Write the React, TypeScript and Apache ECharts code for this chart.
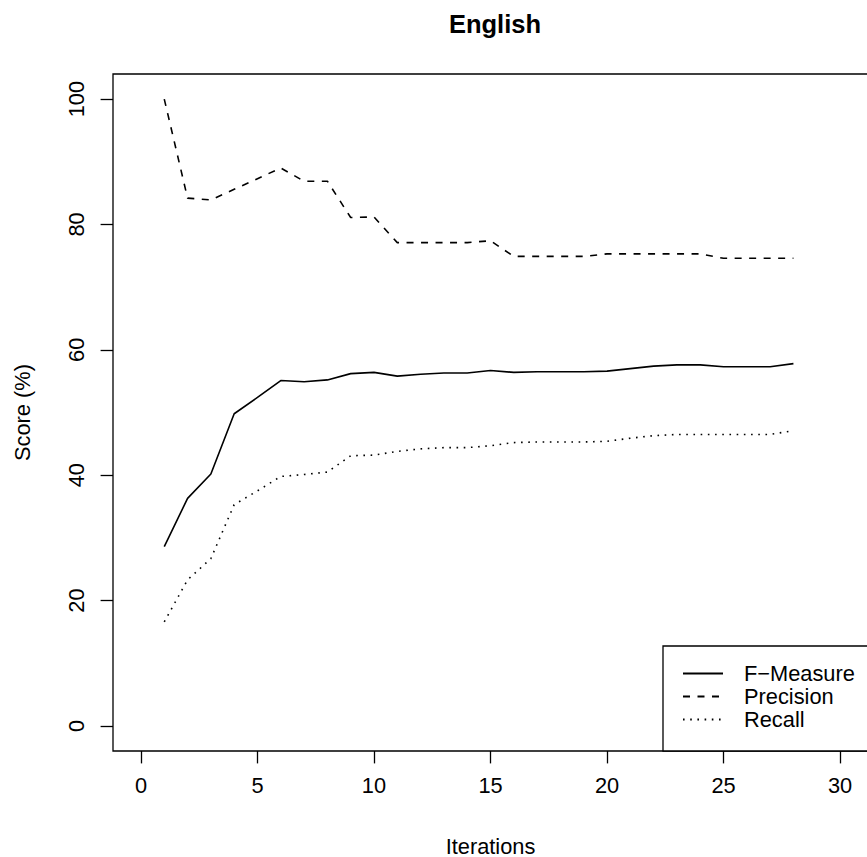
import React, { useEffect, useRef } from "react";
import * as echarts from "echarts";

const iterations = [1, 2, 3, 4, 5, 6, 7, 8, 9, 10, 11, 12, 13, 14, 15, 16, 17, 18, 19, 20, 21, 22, 23, 24, 25, 26, 27, 28];
const fMeasure = [28.6, 36.3, 40.2, 49.8, 52.4, 55.1, 54.9, 55.2, 56.2, 56.4, 55.8, 56.1, 56.3, 56.3, 56.7, 56.4, 56.5, 56.5, 56.5, 56.6, 57.0, 57.4, 57.6, 57.6, 57.3, 57.3, 57.3, 57.8];
const precision = [100, 84.2, 83.9, 85.6, 87.3, 89.0, 86.9, 86.9, 81.1, 81.2, 77.1, 77.1, 77.1, 77.1, 77.4, 74.9, 74.9, 74.9, 74.9, 75.3, 75.3, 75.3, 75.3, 75.3, 74.6, 74.6, 74.6, 74.6];
const recall = [16.6, 23.3, 26.7, 35.3, 37.5, 39.8, 40.1, 40.5, 43.1, 43.2, 43.8, 44.2, 44.4, 44.4, 44.7, 45.2, 45.3, 45.3, 45.3, 45.4, 45.9, 46.3, 46.5, 46.5, 46.5, 46.5, 46.5, 47.1];
const xTicks = [0, 5, 10, 15, 20, 25, 30];
const yTicks = [0, 20, 40, 60, 80, 100];
const seriesNames = ["F\u2212Measure", "Precision", "Recall"];

const FONT = "'Liberation Sans', Arial, Helvetica, sans-serif";
const FS = 21.8;

export default function App() {
  const ref = useRef<HTMLDivElement>(null);
  useEffect(() => {
    if (!ref.current) return;
    const chart = echarts.init(ref.current, null, { renderer: "svg" });
    const pairs = (vals: number[]) => iterations.map((x, i) => [x, vals[i]]);
    chart.setOption({
      animation: false,
      backgroundColor: "#fff",
      textStyle: { fontFamily: FONT, color: "#000" },
      title: {
        text: "English",
        left: 490,
        textAlign: "center",
        top: 6,
        textStyle: { fontFamily: FONT, fontWeight: "bold", fontSize: 25.5, color: "#000" },
      },
      grid: {
        left: 113,
        top: 74,
        width: 755,
        height: 677,
        show: true,
        borderColor: "#000",
        borderWidth: 1.3,
        containLabel: false,
        outerBoundsMode: "none",
      },
      xAxis: {
        type: "value",
        min: -1.2,
        max: 31.2,
        name: "Iterations",
        nameLocation: "middle",
        nameGap: 84,
        nameTextStyle: { fontFamily: FONT, fontSize: FS, color: "#000", verticalAlign: "top" },
        axisLine: { show: false, onZero: false },
        splitLine: { show: false },
        axisTick: {
          show: true,
          inside: false,
          length: 12.4,
          customValues: xTicks,
          lineStyle: { color: "#000", width: 1.3 },
        },
        axisLabel: {
          customValues: xTicks,
          margin: 23,
          fontFamily: FONT,
          fontSize: FS,
          color: "#000",
        },
      },
      yAxis: {
        type: "value",
        min: -4,
        max: 104,
        name: "Score (%)",
        nameLocation: "middle",
        nameGap: 80,
        nameRotate: 90,
        nameTextStyle: { fontFamily: FONT, fontSize: FS, color: "#000" },
        axisLine: { show: false, onZero: false },
        splitLine: { show: false },
        axisTick: {
          show: true,
          inside: false,
          length: 12.4,
          customValues: yTicks,
          lineStyle: { color: "#000", width: 1.3 },
        },
        axisLabel: {
          customValues: yTicks,
          rotate: 90,
          margin: 26,
          fontFamily: FONT,
          fontSize: FS,
          color: "#000",
        },
      },
      legend: {
        orient: "vertical",
        left: 663,
        top: 646,
        padding: [16, 60, 20, 19],
        itemGap: 0,
        itemWidth: 40,
        itemHeight: 23,
        borderColor: "#000",
        borderWidth: 1.3,
        borderRadius: 0,
        backgroundColor: "#fff",
        itemStyle: { opacity: 0 },
        data: seriesNames,
        textStyle: {
          fontFamily: FONT,
          fontSize: FS,
          color: "#000",
          lineHeight: 23,
          padding: [0, 0, 0, 16],
        },
      },
      series: [
        {
          name: seriesNames[0],
          type: "line",
          data: pairs(fMeasure),
          symbol: "none",
          lineStyle: { color: "#000", width: 1.6, type: "solid" },
          itemStyle: { color: "#000" },
        },
        {
          name: seriesNames[1],
          type: "line",
          data: pairs(precision),
          symbol: "none",
          lineStyle: { color: "#000", width: 1.6, type: [7, 7.5] },
          itemStyle: { color: "#000" },
        },
        {
          name: seriesNames[2],
          type: "line",
          data: pairs(recall),
          symbol: "none",
          lineStyle: { color: "#000", width: 1.6, type: [1.6, 5.6] },
          itemStyle: { color: "#000" },
        },
      ],
    });
    return () => chart.dispose();
  }, []);
  return (
    <div
      ref={ref}
      style={{ position: "absolute", left: 0, top: 0, width: 867, height: 857 }}
    />
  );
}
